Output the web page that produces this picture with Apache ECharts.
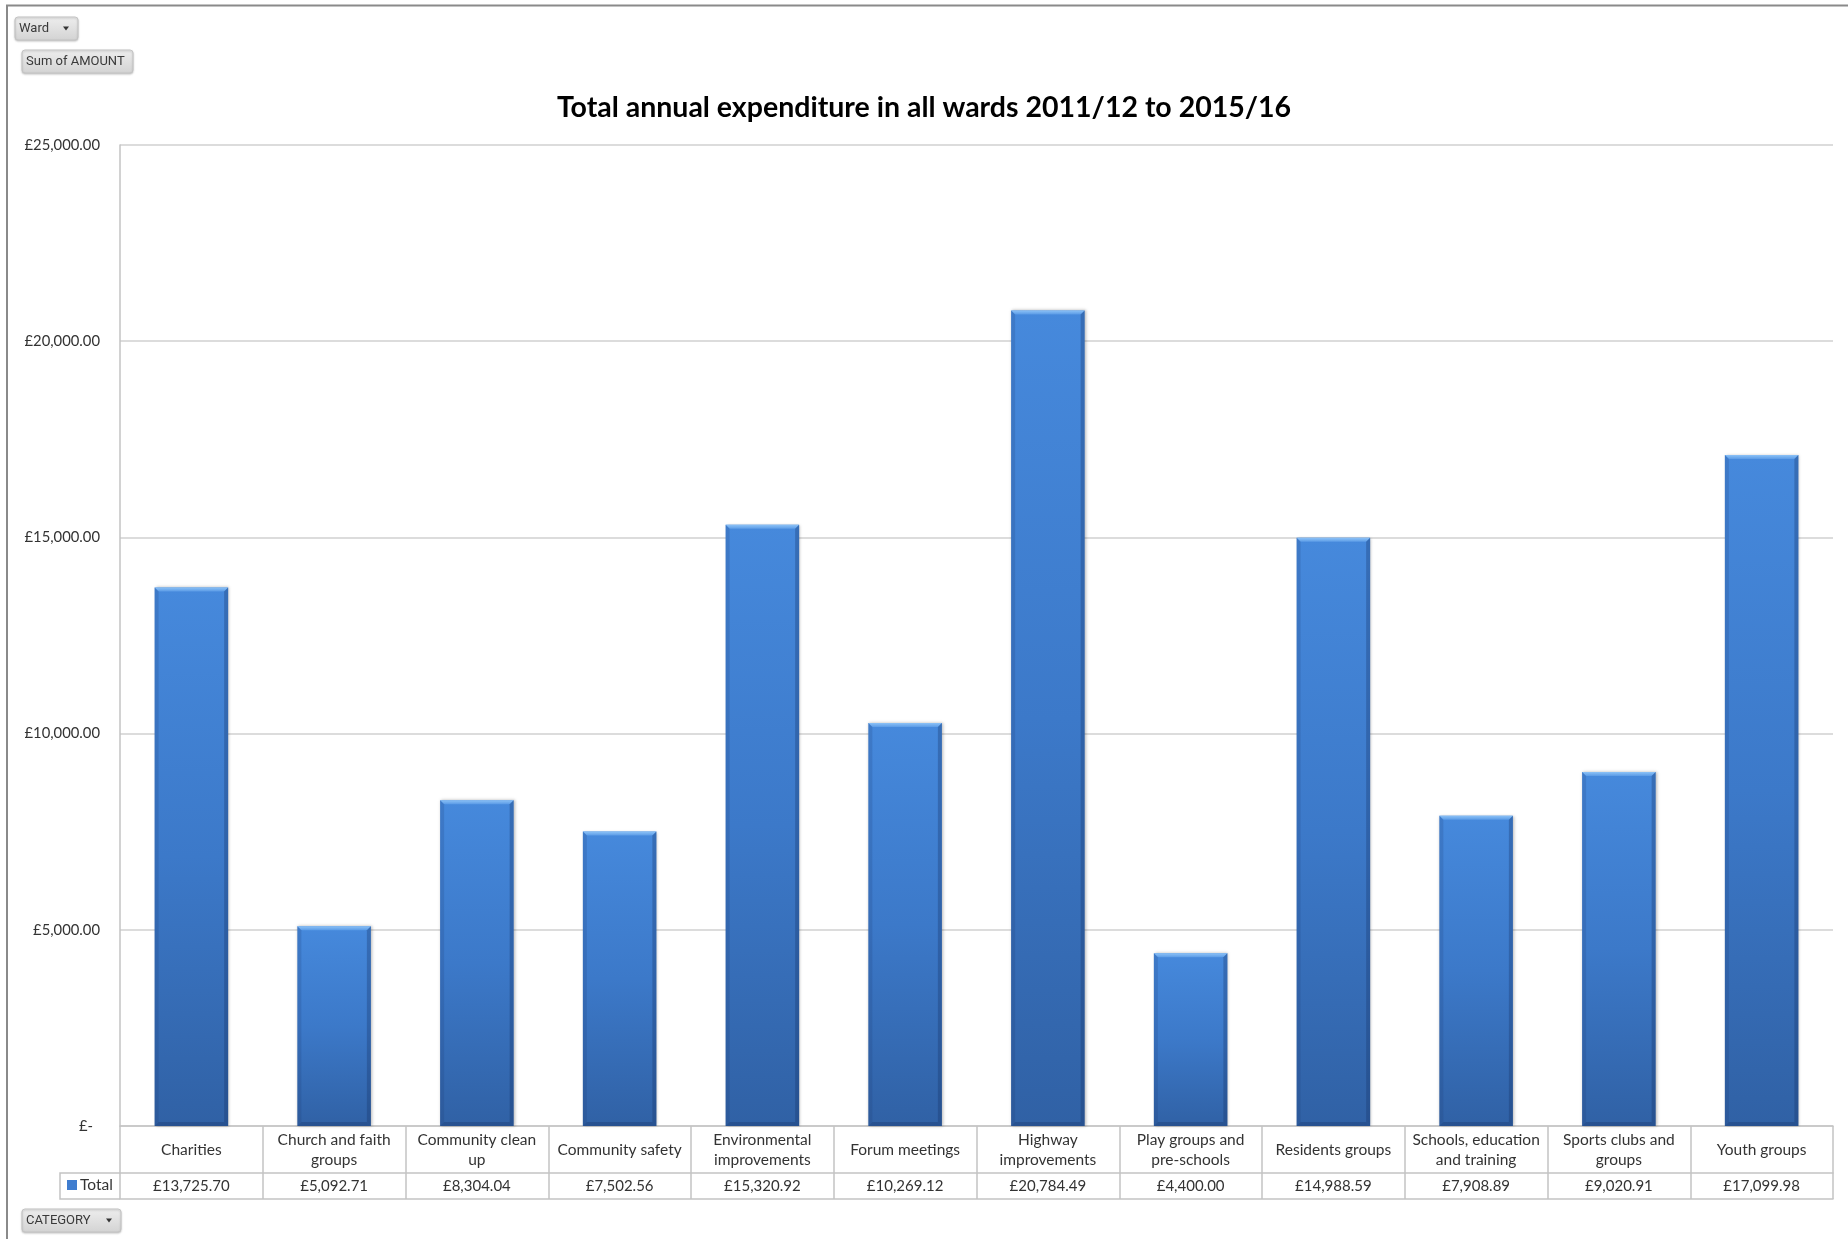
<!DOCTYPE html>
<html>
<head>
<meta charset="utf-8">
<title>Total annual expenditure in all wards 2011/12 to 2015/16</title>
<script src="https://cdn.jsdelivr.net/npm/echarts@6/dist/echarts.min.js"></script>
<style>
  html, body { margin: 0; padding: 0; background: #ffffff; }
  #chart { width: 1848px; height: 1239px; }
</style>
</head>
<body>
<div id="chart"></div>
<script>
// Spending categories (line breaks follow the data-table cell wrapping)
const categories = [
  'Charities',
  'Church and faith\ngroups',
  'Community clean\nup',
  'Community safety',
  'Environmental\nimprovements',
  'Forum meetings',
  'Highway\nimprovements',
  'Play groups and\npre-schools',
  'Residents groups',
  'Schools, education\nand training',
  'Sports clubs and\ngroups',
  'Youth groups'
];

// Sum of AMOUNT per category (GBP)
const totals = [
  13725.70, 5092.71, 8304.04, 7502.56, 15320.92, 10269.12,
  20784.49, 4400.00, 14988.59, 7908.89, 9020.91, 17099.98
];

// Value axis range
const yMin = 0;
const yMax = 25000;
const yStep = 5000;

const seriesName = 'Total';
const titleText = 'Total annual expenditure in all wards 2011/12 to 2015/16';

// Layout
const W = 1848, H = 1239;
const GRID_LEFT = 120, GRID_RIGHT = 15, GRID_TOP = 145, GRID_BOTTOM = 113;
const ROW1 = 47, ROW2 = 26;            // data-table row heights
const LINE = '#c3c3c3';
const TEXT = '#333333';
const FONT = 'Lato, "Open Sans", sans-serif';

function money(v) {
  return '£' + v.toLocaleString('en-GB', { minimumFractionDigits: 2, maximumFractionDigits: 2 });
}

const chart = echarts.init(document.getElementById('chart'), null, { renderer: 'canvas' });

// Excel-style bevelled column
function renderColumn(params, api) {
  const idx = api.value(0);
  const val = api.value(1);
  const top = api.coord([idx, val]);
  const base = api.coord([idx, 0]);
  const band = api.size([1, 0])[0];
  const w = band * 0.515;
  const x0 = top[0] - w / 2, x1 = x0 + w;
  const y0 = top[1], y1 = base[1];
  const b = 4;
  return {
    type: 'group',
    children: [
      {
        type: 'rect',
        shape: { x: x0, y: y0, width: w, height: y1 - y0 },
        style: {
          fill: new echarts.graphic.LinearGradient(0, 0, 0, 1, [
            { offset: 0, color: '#4689dc' },
            { offset: 0.5, color: '#3c79c9' },
            { offset: 1, color: '#3061a5' }
          ]),
          shadowBlur: 3,
          shadowColor: 'rgba(0,0,0,0.28)',
          shadowOffsetX: 1
        }
      },
      {
        type: 'polygon',
        shape: { points: [[x0, y0], [x1, y0], [x1 - b, y0 + b], [x0 + b, y0 + b]] },
        style: {
          fill: new echarts.graphic.LinearGradient(0, 0, 0, 1, [
            { offset: 0, color: '#8cc2f7' },
            { offset: 1, color: '#5b9be6' }
          ])
        }
      },
      {
        type: 'polygon',
        shape: { points: [[x0, y0], [x0 + b, y0 + b], [x0 + b, y1 - b], [x0, y1]] },
        style: { fill: 'rgba(25,55,110,0.18)' }
      },
      {
        type: 'polygon',
        shape: { points: [[x1, y0], [x1 - b, y0 + b], [x1 - b, y1 - b], [x1, y1]] },
        style: { fill: 'rgba(20,45,95,0.30)' }
      },
      {
        type: 'polygon',
        shape: { points: [[x0, y1], [x0 + b, y1 - b], [x1 - b, y1 - b], [x1, y1]] },
        style: { fill: 'rgba(20,45,95,0.30)' }
      }
    ]
  };
}

// Grey pivot-field buttons
function fieldButton(x, y, w, h, label, withArrow) {
  const children = [
    {
      type: 'rect',
      shape: { x: 0, y: 0, width: w, height: h, r: 3 },
      style: {
        fill: new echarts.graphic.LinearGradient(0, 0, 0, 1, [
          { offset: 0, color: '#eeeeee' },
          { offset: 1, color: '#d3d3d3' }
        ]),
        stroke: '#c4c4c4',
        lineWidth: 1,
        shadowBlur: 2,
        shadowColor: 'rgba(0,0,0,0.2)',
        shadowOffsetY: 1
      }
    },
    {
      type: 'text',
      x: 4, y: h / 2,
      style: {
        text: label, fill: '#3a3a3a',
        font: '13px Roboto, sans-serif',
        verticalAlign: 'middle', align: 'left'
      }
    }
  ];
  if (withArrow) {
    children.push({
      type: 'polygon',
      shape: { points: [[w - 15, h / 2 - 2], [w - 9, h / 2 - 2], [w - 12, h / 2 + 2]] },
      style: { fill: '#333333' }
    });
  }
  return { type: 'group', x: x, y: y, children: children };
}

const option = {
  animation: false,
  backgroundColor: '#ffffff',
  title: {
    text: titleText,
    left: 'center',
    top: 88,
    textStyle: { fontFamily: FONT, fontWeight: 'bold', fontSize: 28.5, color: '#000000' }
  },
  legend: {
    data: [seriesName],
    left: 67,
    top: H - GRID_BOTTOM + ROW1 + 4,
    icon: 'rect',
    itemWidth: 10,
    itemHeight: 10,
    itemGap: 4,
    padding: 0,
    selectedMode: false,
    textStyle: { fontFamily: FONT, fontSize: 15.5, color: TEXT, padding: [0, 0, 0, -2] }
  },
  grid: { left: GRID_LEFT, right: GRID_RIGHT, top: GRID_TOP, bottom: GRID_BOTTOM, containLabel: false },
  xAxis: [
    {
      type: 'category',
      data: categories,
      position: 'bottom',
      boundaryGap: true,
      axisLine: { show: true, lineStyle: { color: LINE, width: 1.5 } },
      axisTick: { show: true, alignWithLabel: false, length: ROW1 + ROW2, lineStyle: { color: LINE, width: 1.5 } },
      axisLabel: {
        interval: 0,
        margin: ROW1 / 2,
        verticalAlign: 'middle',
        lineHeight: 20,
        fontFamily: FONT,
        fontSize: 15.5,
        color: TEXT
      }
    },
    {
      type: 'category',
      data: categories,
      position: 'bottom',
      offset: ROW1,
      axisLine: { show: true, lineStyle: { color: LINE, width: 1.5 } },
      axisTick: { show: false },
      axisLabel: {
        interval: 0,
        margin: ROW2 / 2,
        verticalAlign: 'middle',
        fontFamily: FONT,
        fontSize: 15,
        color: TEXT,
        formatter: function (value, index) { return money(totals[index]); }
      }
    },
    {
      type: 'category',
      data: categories,
      position: 'bottom',
      offset: ROW1 + ROW2,
      axisLine: { show: true, lineStyle: { color: LINE, width: 1.5 } },
      axisTick: { show: false },
      axisLabel: { show: false }
    }
  ],
  yAxis: {
    type: 'value',
    min: yMin,
    max: yMax,
    interval: yStep,
    axisLine: { show: true, lineStyle: { color: LINE, width: 1.5 } },
    axisTick: { show: false },
    splitLine: { show: true, lineStyle: { color: '#d0d0d0', width: 1.5 } },
    axisLabel: {
      margin: 20,
      fontFamily: FONT,
      fontSize: 14.8,
      color: TEXT,
      formatter: function (v) {
        return v === 0 ? '{z|£-}' : money(v);
      },
      rich: { z: { fontFamily: FONT, fontSize: 14.8, color: TEXT, padding: [0, 7, 0, 0] } }
    }
  },
  series: [
    {
      name: seriesName,
      type: 'custom',
      xAxisIndex: 0,
      yAxisIndex: 0,
      itemStyle: { color: '#3f7dcf' },
      encode: { x: 0, y: 1 },
      data: totals.map(function (v, i) { return [i, v]; }),
      renderItem: renderColumn
    }
  ],
  graphic: [
    // outer frame (left and top edges)
    { type: 'polyline', shape: { points: [[7, H], [7, 5.5], [W, 5.5]] }, style: { stroke: '#8a8a8a', lineWidth: 2, fill: null } },
    // "Total" header cell of the data table
    {
      type: 'polyline',
      shape: {
        points: [
          [GRID_LEFT, H - GRID_BOTTOM + ROW1],
          [60, H - GRID_BOTTOM + ROW1],
          [60, H - GRID_BOTTOM + ROW1 + ROW2],
          [GRID_LEFT, H - GRID_BOTTOM + ROW1 + ROW2]
        ]
      },
      style: { stroke: LINE, lineWidth: 1.5, fill: null }
    },
    fieldButton(15, 17, 63, 23, 'Ward', true),
    fieldButton(22, 50, 111, 23, 'Sum of AMOUNT', false),
    fieldButton(22, 1209, 99, 23, 'CATEGORY', true)
  ]
};

chart.setOption(option);
</script>
</body>
</html>
